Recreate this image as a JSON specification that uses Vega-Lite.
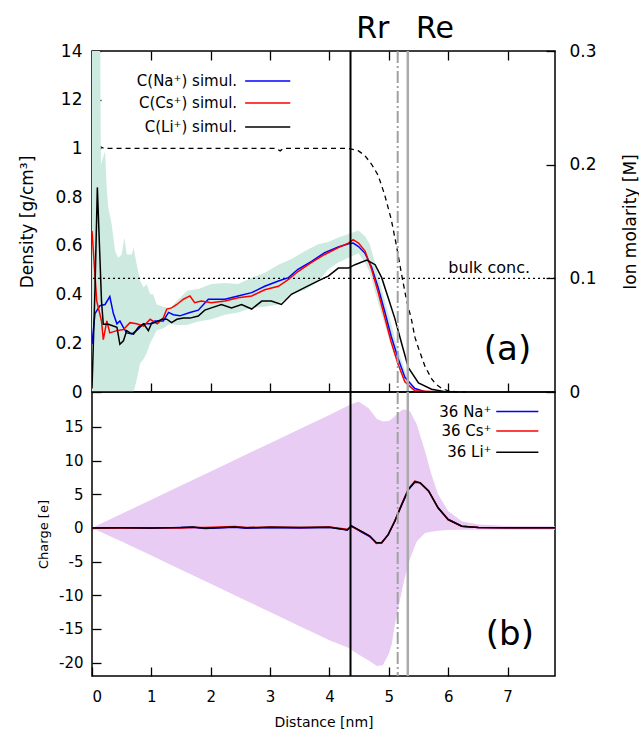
{
  "$schema": "https://vega.github.io/schema/vega-lite/v6.json",
  "padding": {"left": 18, "top": 12, "right": 0, "bottom": 0},
  "background": "white",
  "config": {
    "font": "DejaVu Sans",
    "view": {"stroke": "black", "strokeWidth": 1.5},
    "axis": {"domain": false, "grid": false, "tickColor": "black", "labelColor": "black", "titleColor": "black", "labelFont": "DejaVu Sans", "titleFont": "DejaVu Sans", "titleFontWeight": "normal", "tickWidth": 1.3, "zindex": 1, "offset": -9, "tickSize": 9}
  },
  "datasets": {
    "one": [{}],
    "ions": [
      {"ion":"Na","x":0,"m":0.042},{"ion":"Na","x":0.05,"m":0.069},{"ion":"Na","x":0.135,"m":0.076},{"ion":"Na","x":0.22,"m":0.077},{"ion":"Na","x":0.3,"m":0.084},{"ion":"Na","x":0.36,"m":0.069},{"ion":"Na","x":0.42,"m":0.06},{"ion":"Na","x":0.47,"m":0.0625},{"ion":"Na","x":0.53,"m":0.0566},{"ion":"Na","x":0.585,"m":0.052},{"ion":"Na","x":0.67,"m":0.051},{"ion":"Na","x":0.75,"m":0.054},{"ion":"Na","x":0.87,"m":0.06},{"ion":"Na","x":0.98,"m":0.06},{"ion":"Na","x":1.06,"m":0.0625},{"ion":"Na","x":1.2,"m":0.0625},{"ion":"Na","x":1.29,"m":0.07},{"ion":"Na","x":1.37,"m":0.068},{"ion":"Na","x":1.48,"m":0.067},{"ion":"Na","x":1.65,"m":0.07},{"ion":"Na","x":1.79,"m":0.072},{"ion":"Na","x":1.96,"m":0.0816},{"ion":"Na","x":2.07,"m":0.0816},{"ion":"Na","x":2.24,"m":0.0816},{"ion":"Na","x":2.46,"m":0.0845},{"ion":"Na","x":2.69,"m":0.0874},{"ion":"Na","x":2.91,"m":0.093},{"ion":"Na","x":3.14,"m":0.0977},{"ion":"Na","x":3.31,"m":0.1006},{"ion":"Na","x":3.47,"m":0.108},{"ion":"Na","x":3.7,"m":0.115},{"ion":"Na","x":3.92,"m":0.1226},{"ion":"Na","x":4.15,"m":0.1276},{"ion":"Na","x":4.32,"m":0.1305},{"ion":"Na","x":4.4,"m":0.131},{"ion":"Na","x":4.49,"m":0.128},{"ion":"Na","x":4.6,"m":0.122},{"ion":"Na","x":4.71,"m":0.11},{"ion":"Na","x":4.82,"m":0.092},{"ion":"Na","x":4.93,"m":0.071},{"ion":"Na","x":5.04,"m":0.049},{"ion":"Na","x":5.16,"m":0.029},{"ion":"Na","x":5.27,"m":0.013},{"ion":"Na","x":5.44,"m":0.003},{"ion":"Na","x":5.6,"m":0.0005},{"ion":"Na","x":5.9,"m":0},
      {"ion":"Cs","x":0,"m":0.1417},{"ion":"Cs","x":0.08,"m":0.08},{"ion":"Cs","x":0.16,"m":0.0625},{"ion":"Cs","x":0.19,"m":0.046},{"ion":"Cs","x":0.25,"m":0.0625},{"ion":"Cs","x":0.3,"m":0.052},{"ion":"Cs","x":0.42,"m":0.054},{"ion":"Cs","x":0.53,"m":0.055},{"ion":"Cs","x":0.64,"m":0.061},{"ion":"Cs","x":0.75,"m":0.06},{"ion":"Cs","x":0.87,"m":0.058},{"ion":"Cs","x":0.98,"m":0.064},{"ion":"Cs","x":1.1,"m":0.06},{"ion":"Cs","x":1.2,"m":0.065},{"ion":"Cs","x":1.26,"m":0.073},{"ion":"Cs","x":1.34,"m":0.074},{"ion":"Cs","x":1.43,"m":0.077},{"ion":"Cs","x":1.54,"m":0.0816},{"ion":"Cs","x":1.65,"m":0.0845},{"ion":"Cs","x":1.73,"m":0.0786},{"ion":"Cs","x":1.84,"m":0.08},{"ion":"Cs","x":2.01,"m":0.0786},{"ion":"Cs","x":2.24,"m":0.08},{"ion":"Cs","x":2.46,"m":0.083},{"ion":"Cs","x":2.69,"m":0.0845},{"ion":"Cs","x":2.91,"m":0.09},{"ion":"Cs","x":3.14,"m":0.093},{"ion":"Cs","x":3.31,"m":0.099},{"ion":"Cs","x":3.47,"m":0.106},{"ion":"Cs","x":3.7,"m":0.114},{"ion":"Cs","x":3.92,"m":0.121},{"ion":"Cs","x":4.15,"m":0.127},{"ion":"Cs","x":4.32,"m":0.131},{"ion":"Cs","x":4.4,"m":0.134},{"ion":"Cs","x":4.49,"m":0.131},{"ion":"Cs","x":4.6,"m":0.124},{"ion":"Cs","x":4.71,"m":0.108},{"ion":"Cs","x":4.82,"m":0.088},{"ion":"Cs","x":4.93,"m":0.066},{"ion":"Cs","x":5.04,"m":0.044},{"ion":"Cs","x":5.16,"m":0.024},{"ion":"Cs","x":5.27,"m":0.009},{"ion":"Cs","x":5.44,"m":0.001},{"ion":"Cs","x":5.9,"m":0},
      {"ion":"Li","x":0,"m":0.003},{"ion":"Li","x":0.05,"m":0.09},{"ion":"Li","x":0.09,"m":0.18},{"ion":"Li","x":0.16,"m":0.08},{"ion":"Li","x":0.19,"m":0.0596},{"ion":"Li","x":0.275,"m":0.0596},{"ion":"Li","x":0.36,"m":0.058},{"ion":"Li","x":0.42,"m":0.057},{"ion":"Li","x":0.47,"m":0.042},{"ion":"Li","x":0.53,"m":0.045},{"ion":"Li","x":0.585,"m":0.054},{"ion":"Li","x":0.64,"m":0.052},{"ion":"Li","x":0.7,"m":0.051},{"ion":"Li","x":0.78,"m":0.057},{"ion":"Li","x":0.87,"m":0.06},{"ion":"Li","x":0.95,"m":0.054},{"ion":"Li","x":1.0,"m":0.06},{"ion":"Li","x":1.1,"m":0.062},{"ion":"Li","x":1.18,"m":0.064},{"ion":"Li","x":1.26,"m":0.064},{"ion":"Li","x":1.34,"m":0.061},{"ion":"Li","x":1.43,"m":0.064},{"ion":"Li","x":1.54,"m":0.065},{"ion":"Li","x":1.65,"m":0.065},{"ion":"Li","x":1.79,"m":0.0669},{"ion":"Li","x":1.9,"m":0.072},{"ion":"Li","x":2.01,"m":0.074},{"ion":"Li","x":2.18,"m":0.077},{"ion":"Li","x":2.35,"m":0.074},{"ion":"Li","x":2.52,"m":0.077},{"ion":"Li","x":2.69,"m":0.073},{"ion":"Li","x":2.86,"m":0.08},{"ion":"Li","x":3.02,"m":0.08},{"ion":"Li","x":3.19,"m":0.077},{"ion":"Li","x":3.36,"m":0.086},{"ion":"Li","x":3.59,"m":0.092},{"ion":"Li","x":3.81,"m":0.0977},{"ion":"Li","x":3.98,"m":0.102},{"ion":"Li","x":4.15,"m":0.109},{"ion":"Li","x":4.32,"m":0.109},{"ion":"Li","x":4.43,"m":0.112},{"ion":"Li","x":4.63,"m":0.116},{"ion":"Li","x":4.77,"m":0.112},{"ion":"Li","x":4.88,"m":0.1006},{"ion":"Li","x":4.99,"m":0.083},{"ion":"Li","x":5.1,"m":0.065},{"ion":"Li","x":5.22,"m":0.042},{"ion":"Li","x":5.33,"m":0.0214},{"ion":"Li","x":5.5,"m":0.008},{"ion":"Li","x":5.72,"m":0.0024},{"ion":"Li","x":5.95,"m":0.0003},{"ion":"Li","x":6.1,"m":0}
    ],
    "band": [
      {"x":0,"lo":0,"hi":0.35},{"x":0.135,"lo":0,"hi":0.35},{"x":0.15,"lo":0,"hi":0.2},{"x":0.22,"lo":0,"hi":0.212},{"x":0.25,"lo":0,"hi":0.177},{"x":0.275,"lo":0,"hi":0.162},{"x":0.33,"lo":0,"hi":0.148},{"x":0.39,"lo":0,"hi":0.124},{"x":0.44,"lo":0,"hi":0.118},{"x":0.5,"lo":0,"hi":0.121},{"x":0.545,"lo":0,"hi":0.136},{"x":0.585,"lo":0,"hi":0.121},{"x":0.67,"lo":0,"hi":0.121},{"x":0.7,"lo":0,"hi":0.127},{"x":0.75,"lo":0.01,"hi":0.113},{"x":0.81,"lo":0.025,"hi":0.098},{"x":0.87,"lo":0.029,"hi":0.092},{"x":0.92,"lo":0.034,"hi":0.095},{"x":0.98,"lo":0.043,"hi":0.086},{"x":1.03,"lo":0.048,"hi":0.086},{"x":1.09,"lo":0.054,"hi":0.077},{"x":1.2,"lo":0.056,"hi":0.075},{"x":1.32,"lo":0.06,"hi":0.074},{"x":1.43,"lo":0.059,"hi":0.08},{"x":1.6,"lo":0.059,"hi":0.089},{"x":1.79,"lo":0.062,"hi":0.0906},{"x":2.01,"lo":0.064,"hi":0.095},{"x":2.24,"lo":0.068,"hi":0.096},{"x":2.46,"lo":0.07,"hi":0.095},{"x":2.69,"lo":0.074,"hi":0.1006},{"x":2.91,"lo":0.075,"hi":0.105},{"x":3.14,"lo":0.077,"hi":0.112},{"x":3.36,"lo":0.086,"hi":0.117},{"x":3.59,"lo":0.09,"hi":0.124},{"x":3.81,"lo":0.097,"hi":0.13},{"x":3.98,"lo":0.108,"hi":0.132},{"x":4.15,"lo":0.114,"hi":0.136},{"x":4.32,"lo":0.118,"hi":0.139},{"x":4.49,"lo":0.122,"hi":0.142},{"x":4.6,"lo":0.114,"hi":0.137},{"x":4.68,"lo":0.105,"hi":0.13},{"x":4.77,"lo":0.088,"hi":0.113},{"x":4.88,"lo":0.068,"hi":0.09},{"x":5.0,"lo":0.048,"hi":0.068},{"x":5.1,"lo":0.031,"hi":0.048},{"x":5.2,"lo":0.017,"hi":0.03},{"x":5.3,"lo":0.006,"hi":0.015},{"x":5.4,"lo":0.001,"hi":0.005},{"x":5.5,"lo":0,"hi":0.001}
    ],
    "water": [
      {"x":0.12,"d":1.01},{"x":0.2,"d":1.0},{"x":1.5,"d":1.0},{"x":3.1,"d":1.0},{"x":3.17,"d":0.99},{"x":3.22,"d":1.0},{"x":4.32,"d":1.0},{"x":4.49,"d":0.99},{"x":4.6,"d":0.97},{"x":4.71,"d":0.935},{"x":4.82,"d":0.89},{"x":4.93,"d":0.81},{"x":5.04,"d":0.71},{"x":5.13,"d":0.6},{"x":5.21,"d":0.49},{"x":5.3,"d":0.375},{"x":5.38,"d":0.3},{"x":5.44,"d":0.225},{"x":5.5,"d":0.18},{"x":5.61,"d":0.105},{"x":5.72,"d":0.055},{"x":5.78,"d":0.035},{"x":5.89,"d":0.015},{"x":6.0,"d":0.005},{"x":6.12,"d":0.001},{"x":6.3,"d":0}
    ],
    "charge": [
      {"ion":"Na","x":0,"q":0},{"ion":"Na","x":0.5,"q":0.02},{"ion":"Na","x":1.0,"q":-0.05},{"ion":"Na","x":1.5,"q":0.05},{"ion":"Na","x":1.7,"q":0.1},{"ion":"Na","x":1.9,"q":-0.1},{"ion":"Na","x":2.4,"q":0.1},{"ion":"Na","x":2.6,"q":-0.05},{"ion":"Na","x":3.0,"q":0.05},{"ion":"Na","x":3.5,"q":0},{"ion":"Na","x":4.0,"q":0.1},{"ion":"Na","x":4.3,"q":-0.3},{"ion":"Na","x":4.37,"q":0.3},{"ion":"Na","x":4.54,"q":-0.6},{"ion":"Na","x":4.68,"q":-1.3},{"ion":"Na","x":4.79,"q":-2.2},{"ion":"Na","x":4.88,"q":-2.2},{"ion":"Na","x":4.99,"q":-1.0},{"ion":"Na","x":5.1,"q":1.0},{"ion":"Na","x":5.22,"q":3.5},{"ion":"Na","x":5.33,"q":5.7},{"ion":"Na","x":5.44,"q":6.8},{"ion":"Na","x":5.53,"q":6.7},{"ion":"Na","x":5.67,"q":5.5},{"ion":"Na","x":5.83,"q":3.0},{"ion":"Na","x":6.0,"q":1.25},{"ion":"Na","x":6.23,"q":0.25},{"ion":"Na","x":6.51,"q":0.05},{"ion":"Na","x":7.0,"q":0.02},{"ion":"Na","x":7.8,"q":0.02},
      {"ion":"Cs","x":0,"q":0},{"ion":"Cs","x":0.5,"q":-0.02},{"ion":"Cs","x":1.0,"q":0.02},{"ion":"Cs","x":1.5,"q":0},{"ion":"Cs","x":1.7,"q":0.05},{"ion":"Cs","x":1.9,"q":0.05},{"ion":"Cs","x":2.4,"q":0.2},{"ion":"Cs","x":2.6,"q":0.05},{"ion":"Cs","x":3.0,"q":0.15},{"ion":"Cs","x":3.5,"q":0.05},{"ion":"Cs","x":4.0,"q":0.15},{"ion":"Cs","x":4.3,"q":-0.2},{"ion":"Cs","x":4.37,"q":0.2},{"ion":"Cs","x":4.54,"q":-0.5},{"ion":"Cs","x":4.68,"q":-1.2},{"ion":"Cs","x":4.79,"q":-2.3},{"ion":"Cs","x":4.88,"q":-2.2},{"ion":"Cs","x":4.99,"q":-1.0},{"ion":"Cs","x":5.1,"q":1.0},{"ion":"Cs","x":5.22,"q":3.6},{"ion":"Cs","x":5.33,"q":5.8},{"ion":"Cs","x":5.44,"q":6.95},{"ion":"Cs","x":5.53,"q":6.7},{"ion":"Cs","x":5.67,"q":5.5},{"ion":"Cs","x":5.83,"q":3.0},{"ion":"Cs","x":6.0,"q":1.25},{"ion":"Cs","x":6.23,"q":0.25},{"ion":"Cs","x":6.51,"q":0.05},{"ion":"Cs","x":7.0,"q":0.02},{"ion":"Cs","x":7.8,"q":0.02},
      {"ion":"Li","x":0,"q":0},{"ion":"Li","x":0.5,"q":0.02},{"ion":"Li","x":1.0,"q":0.0},{"ion":"Li","x":1.5,"q":0.05},{"ion":"Li","x":1.7,"q":0.15},{"ion":"Li","x":1.9,"q":-0.05},{"ion":"Li","x":2.4,"q":0.15},{"ion":"Li","x":2.6,"q":0.02},{"ion":"Li","x":3.0,"q":0.1},{"ion":"Li","x":3.5,"q":0.05},{"ion":"Li","x":4.0,"q":0.1},{"ion":"Li","x":4.3,"q":-0.3},{"ion":"Li","x":4.37,"q":0.3},{"ion":"Li","x":4.54,"q":-0.5},{"ion":"Li","x":4.68,"q":-1.2},{"ion":"Li","x":4.79,"q":-2.2},{"ion":"Li","x":4.88,"q":-2.2},{"ion":"Li","x":4.99,"q":-1.0},{"ion":"Li","x":5.1,"q":1.0},{"ion":"Li","x":5.22,"q":3.5},{"ion":"Li","x":5.33,"q":5.7},{"ion":"Li","x":5.44,"q":6.9},{"ion":"Li","x":5.53,"q":6.7},{"ion":"Li","x":5.67,"q":5.5},{"ion":"Li","x":5.83,"q":3.0},{"ion":"Li","x":6.0,"q":1.25},{"ion":"Li","x":6.23,"q":0.25},{"ion":"Li","x":6.51,"q":0.05},{"ion":"Li","x":7.0,"q":0.02},{"ion":"Li","x":7.8,"q":0.02}
    ],
    "chband": [
      {"x":0,"lo":0,"hi":0},{"x":0.5,"lo":-2.0,"hi":2.1},{"x":1.0,"lo":-4.1,"hi":4.2},{"x":1.5,"lo":-6.2,"hi":6.3},{"x":2.0,"lo":-8.3,"hi":8.4},{"x":2.5,"lo":-10.4,"hi":10.5},{"x":3.0,"lo":-12.5,"hi":12.6},{"x":3.5,"lo":-14.6,"hi":14.7},{"x":4.0,"lo":-16.7,"hi":16.8},{"x":4.32,"lo":-17.8,"hi":18.2},{"x":4.49,"lo":-18.8,"hi":18.8},{"x":4.66,"lo":-19.7,"hi":17.8},{"x":4.8,"lo":-20.5,"hi":16.2},{"x":4.9,"lo":-20.4,"hi":15.8},{"x":5.0,"lo":-18.7,"hi":15.9},{"x":5.05,"lo":-17.3,"hi":16.2},{"x":5.1,"lo":-14.5,"hi":16.6},{"x":5.16,"lo":-11.9,"hi":17.1},{"x":5.24,"lo":-8.5,"hi":17.6},{"x":5.27,"lo":-7.4,"hi":17.6},{"x":5.36,"lo":-4.5,"hi":17.3},{"x":5.47,"lo":-2.0,"hi":15.4},{"x":5.61,"lo":-0.75,"hi":11.4},{"x":5.72,"lo":-0.55,"hi":7.9},{"x":5.83,"lo":-0.4,"hi":5.0},{"x":6.0,"lo":-0.3,"hi":2.5},{"x":6.23,"lo":-0.25,"hi":1.0},{"x":6.51,"lo":-0.25,"hi":0.5},{"x":7.0,"lo":-0.25,"hi":0.3},{"x":7.8,"lo":-0.25,"hi":0.25}
    ]
  },
  "spacing": 0,
  "bounds": "flush",
  "vconcat": [
    {
      "width": 463,
      "height": 341,
      "layer": [
        {
          "layer": [
            {
              "data": {"name": "water"},
              "mark": {"type": "line", "color": "black", "strokeDash": [5, 4], "strokeWidth": 1.3},
              "encoding": {
                "x": {"field": "x", "type": "quantitative", "scale": {"domain": [0, 7.8], "nice": false, "zero": false}, "axis": {"orient": "bottom", "values": [1, 2, 3, 4, 5, 6, 7], "labels": false, "title": null}},
                "y": {"field": "d", "type": "quantitative", "scale": {"domain": [0, 1.4], "nice": false}, "axis": {"orient": "left", "values": [0, 0.2, 0.4, 0.6, 0.8, 1, 1.2, 1.4], "format": "~g", "labelExpr": "datum.value > 1.3 ? '14' : datum.value > 1.1 ? '12' : datum.label", "labelPadding": 10, "labelFontSize": 17, "title": "Density [g/cm³]", "titleFontSize": 17, "titlePadding": 18}}
              }
            },
            {
              "data": {"name": "one"},
              "mark": {"type": "text", "fontSize": 30, "baseline": "alphabetic", "align": "center", "color": "black"},
              "encoding": {"x": {"datum": 4.73}, "y": {"datum": 1.455}, "text": {"value": "Rr"}}
            },
            {
              "data": {"name": "one"},
              "mark": {"type": "text", "fontSize": 30, "baseline": "alphabetic", "align": "center", "color": "black"},
              "encoding": {"x": {"datum": 5.78}, "y": {"datum": 1.455}, "text": {"value": "Re"}}
            }
          ]
        },
        {
          "layer": [
            {
              "data": {"name": "band"},
              "mark": {"type": "area", "color": "#cdeae0", "opacity": 1, "clip": true},
              "encoding": {
                "x": {"field": "x", "type": "quantitative", "scale": {"domain": [0, 7.8], "nice": false, "zero": false}, "axis": {"orient": "top", "values": [1, 2, 3, 4, 5, 6, 7], "labels": false, "title": null}},
                "y": {"field": "hi", "type": "quantitative", "scale": {"domain": [0, 0.3], "nice": false}, "axis": {"orient": "right", "values": [0, 0.1, 0.2, 0.3], "format": "~g", "labelPadding": 14, "labelFontSize": 17, "title": "Ion molarity [M]", "titleFontSize": 17, "titleAngle": 270, "titlePadding": 43}},
                "y2": {"field": "lo"}
              }
            },
            {
              "data": {"name": "one"},
              "mark": {"type": "rule", "color": "black", "strokeDash": [2, 3], "strokeWidth": 1.2},
              "encoding": {"y": {"datum": 0.1}}
            },
            {
              "data": {"name": "ions"},
              "mark": {"type": "line", "strokeWidth": 1.5, "clip": true},
              "encoding": {
                "x": {"field": "x", "type": "quantitative"},
                "y": {"field": "m", "type": "quantitative"},
                "color": {"field": "ion", "type": "nominal", "scale": {"domain": ["Na", "Cs", "Li"], "range": ["#0000ff", "#ff0000", "#000000"]}, "legend": null}
              }
            },
            {"data": {"name": "one"}, "mark": {"type": "rule", "color": "black", "strokeWidth": 2}, "encoding": {"x": {"datum": 4.355}}},
            {"data": {"name": "one"}, "mark": {"type": "rule", "color": "#a0a0a0", "strokeWidth": 2, "strokeDash": [12, 3, 2, 3]}, "encoding": {"x": {"datum": 5.15}}},
            {"data": {"name": "one"}, "mark": {"type": "rule", "color": "#aaaaaa", "strokeWidth": 2.5}, "encoding": {"x": {"datum": 5.32}}},
            {"data": {"name": "one"}, "mark": {"type": "text", "fontSize": 16, "align": "right", "baseline": "alphabetic", "color": "black"}, "encoding": {"x": {"datum": 7.38}, "y": {"datum": 0.1047}, "text": {"value": "bulk conc."}}},
            {"data": {"name": "one"}, "mark": {"type": "text", "fontSize": 34, "align": "center", "baseline": "middle", "color": "black"}, "encoding": {"x": {"datum": 7.0}, "y": {"datum": 0.037}, "text": {"value": "(a)"}}},
            {"data": {"name": "one"}, "mark": {"type": "text", "fontSize": 15, "align": "right", "baseline": "middle", "color": "black"}, "encoding": {"x": {"datum": 2.445}, "y": {"datum": 0.2736}, "text": {"value": "C(Na⁺) simul."}}},
            {"data": {"name": "one"}, "mark": {"type": "text", "fontSize": 15, "align": "right", "baseline": "middle", "color": "black"}, "encoding": {"x": {"datum": 2.445}, "y": {"datum": 0.2543}, "text": {"value": "C(Cs⁺) simul."}}},
            {"data": {"name": "one"}, "mark": {"type": "text", "fontSize": 15, "align": "right", "baseline": "middle", "color": "black"}, "encoding": {"x": {"datum": 2.445}, "y": {"datum": 0.2332}, "text": {"value": "C(Li⁺) simul."}}},
            {"data": {"name": "one"}, "mark": {"type": "rule", "color": "#0000ff", "strokeWidth": 1.5}, "encoding": {"x": {"datum": 2.58}, "x2": {"datum": 3.34}, "y": {"datum": 0.2736}}},
            {"data": {"name": "one"}, "mark": {"type": "rule", "color": "#ff0000", "strokeWidth": 1.5}, "encoding": {"x": {"datum": 2.58}, "x2": {"datum": 3.34}, "y": {"datum": 0.2543}}},
            {"data": {"name": "one"}, "mark": {"type": "rule", "color": "#000000", "strokeWidth": 1.5}, "encoding": {"x": {"datum": 2.58}, "x2": {"datum": 3.34}, "y": {"datum": 0.2332}}}
          ]
        }
      ],
      "resolve": {"scale": {"x": "independent", "y": "independent"}, "axis": {"x": "independent", "y": "independent"}}
    },
    {
      "width": 463,
      "height": 284,
      "layer": [
        {
          "data": {"name": "chband"},
          "mark": {"type": "area", "color": "#e8ccf4", "opacity": 1},
          "encoding": {
            "x": {"field": "x", "type": "quantitative", "scale": {"domain": [0, 7.8], "nice": false, "zero": false}, "axis": {"orient": "bottom", "values": [0, 1, 2, 3, 4, 5, 6, 7], "format": "d", "labelPadding": 13, "labelFontSize": 15, "title": "Distance [nm]", "titleFontSize": 14, "titlePadding": 11}},
            "y": {"field": "hi", "type": "quantitative", "scale": {"domain": [-22, 20.2], "nice": false}, "axis": {"orient": "left", "values": [-20, -15, -10, -5, 0, 5, 10, 15], "labelExpr": "toString(datum.value)", "labelPadding": 9, "labelFontSize": 15, "title": "Charge [e]", "titleFontSize": 13, "titlePadding": 8}},
            "y2": {"field": "lo"}
          }
        },
        {
          "data": {"name": "charge"},
          "mark": {"type": "line", "strokeWidth": 1.5},
          "encoding": {
            "x": {"field": "x", "type": "quantitative"},
            "y": {"field": "q", "type": "quantitative"},
            "color": {"field": "ion", "type": "nominal", "scale": {"domain": ["Na", "Cs", "Li"], "range": ["#0000ff", "#ff0000", "#000000"]}, "legend": null}
          }
        },
        {"data": {"name": "one"}, "mark": {"type": "rule", "color": "black", "strokeWidth": 2}, "encoding": {"x": {"datum": 4.355}}},
        {"data": {"name": "one"}, "mark": {"type": "rule", "color": "#a0a0a0", "strokeWidth": 2, "strokeDash": [12, 3, 2, 3]}, "encoding": {"x": {"datum": 5.15}}},
        {"data": {"name": "one"}, "mark": {"type": "rule", "color": "#aaaaaa", "strokeWidth": 2.5}, "encoding": {"x": {"datum": 5.32}}},
        {"data": {"name": "one"}, "mark": {"type": "text", "fontSize": 34, "align": "center", "baseline": "middle", "color": "black"}, "encoding": {"x": {"datum": 7.04}, "y": {"datum": -15.9}, "text": {"value": "(b)"}}},
        {"data": {"name": "one"}, "mark": {"type": "text", "fontSize": 15, "align": "right", "baseline": "middle", "color": "black"}, "encoding": {"x": {"datum": 6.73}, "y": {"datum": 17.3}, "text": {"value": "36 Na⁺"}}},
        {"data": {"name": "one"}, "mark": {"type": "text", "fontSize": 15, "align": "right", "baseline": "middle", "color": "black"}, "encoding": {"x": {"datum": 6.73}, "y": {"datum": 14.4}, "text": {"value": "36 Cs⁺"}}},
        {"data": {"name": "one"}, "mark": {"type": "text", "fontSize": 15, "align": "right", "baseline": "middle", "color": "black"}, "encoding": {"x": {"datum": 6.73}, "y": {"datum": 11.25}, "text": {"value": "36 Li⁺"}}},
        {"data": {"name": "one"}, "mark": {"type": "rule", "color": "#0000ff", "strokeWidth": 1.5}, "encoding": {"x": {"datum": 6.81}, "x2": {"datum": 7.52}, "y": {"datum": 17.3}}},
        {"data": {"name": "one"}, "mark": {"type": "rule", "color": "#ff0000", "strokeWidth": 1.5}, "encoding": {"x": {"datum": 6.81}, "x2": {"datum": 7.52}, "y": {"datum": 14.4}}},
        {"data": {"name": "one"}, "mark": {"type": "rule", "color": "#000000", "strokeWidth": 1.5}, "encoding": {"x": {"datum": 6.81}, "x2": {"datum": 7.52}, "y": {"datum": 11.25}}}
      ]
    }
  ]
}
